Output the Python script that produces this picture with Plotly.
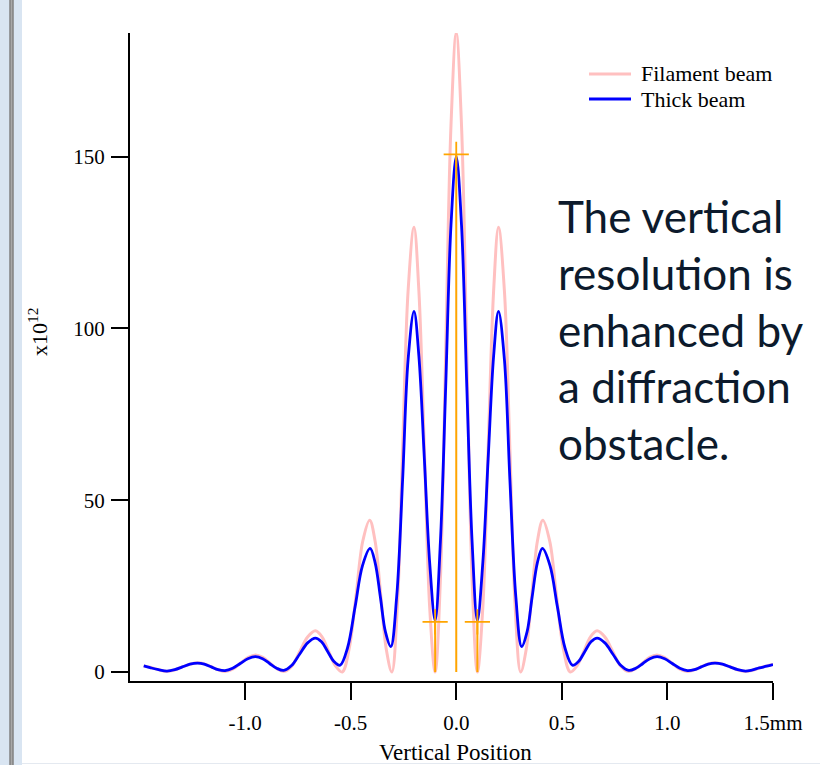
import plotly.graph_objects as go

# ---------------- data ----------------
filament_x = [-1.48, -1.45, -1.41, -1.37, -1.334, -1.298, -1.26, -1.225, -1.19, -1.158, -1.124, -1.09,
              -1.055, -1.02, -0.985, -0.95, -0.916, -0.883, -0.85, -0.815, -0.778, -0.741, -0.704, -0.667,
              -0.635, -0.604, -0.572, -0.54, -0.508, -0.475, -0.443, -0.41, -0.384, -0.357, -0.331, -0.305,
              -0.279, -0.254, -0.228, -0.2, -0.177, -0.151, -0.126, -0.1, -0.075, -0.05, -0.025,
              0.0,
              0.025, 0.05, 0.075, 0.1, 0.126, 0.151, 0.177, 0.2, 0.228, 0.254, 0.279, 0.305,
              0.331, 0.357, 0.384, 0.41, 0.443, 0.475, 0.508, 0.54, 0.572, 0.604, 0.635, 0.667,
              0.704, 0.741, 0.778, 0.815, 0.85, 0.883, 0.916, 0.95, 0.985, 1.02, 1.055, 1.09,
              1.124, 1.158, 1.19, 1.225, 1.26, 1.298, 1.334, 1.37, 1.40, 1.435, 1.47, 1.5]
filament_y = [1.8, 1.4, 0.7, 0.2, 0.6, 1.5, 2.3, 2.7, 2.3, 1.5, 0.6, 0.2,
              1.0, 2.7, 4.3, 5.0, 4.3, 2.7, 1.0, 0.2, 1.8, 6.0, 10.2, 12.0,
              10.2, 6.0, 1.8, 0.0, 6.5, 22.0, 38.0, 44.2, 38.0, 22.0, 6.5, 0.0,
              19.0, 65.0, 111.0, 129.5, 111.0, 65.0, 19.0, 0.0, 27.0, 93.0, 159.0,
              186.0,
              159.0, 93.0, 27.0, 0.0, 19.0, 65.0, 111.0, 129.5, 111.0, 65.0, 19.0, 0.0,
              6.5, 22.0, 38.0, 44.2, 38.0, 22.0, 6.5, 0.0, 1.8, 6.0, 10.2, 12.0,
              10.2, 6.0, 1.8, 0.2, 1.0, 2.7, 4.3, 5.0, 4.3, 2.7, 1.0, 0.2,
              0.6, 1.5, 2.3, 2.7, 2.3, 1.5, 0.6, 0.2, 0.5, 1.2, 1.8, 2.2]

thick_x = [-1.48, -1.45, -1.41, -1.37, -1.333, -1.297, -1.261, -1.225, -1.193, -1.16, -1.128, -1.095,
           -1.059, -1.023, -0.987, -0.951, -0.917, -0.884, -0.85, -0.817, -0.78, -0.742, -0.704, -0.667,
           -0.638, -0.609, -0.579, -0.55, -0.515, -0.479, -0.444, -0.408, -0.384, -0.359, -0.335, -0.31,
           -0.282, -0.254, -0.228, -0.2, -0.177, -0.151, -0.126, -0.1, -0.075, -0.05, -0.025,
           0.0,
           0.025, 0.05, 0.075, 0.1, 0.126, 0.151, 0.177, 0.2, 0.228, 0.254, 0.282, 0.31,
           0.335, 0.359, 0.384, 0.408, 0.444, 0.479, 0.515, 0.55, 0.579, 0.609, 0.638, 0.667,
           0.704, 0.742, 0.78, 0.817, 0.85, 0.884, 0.917, 0.951, 0.987, 1.023, 1.059, 1.095,
           1.128, 1.16, 1.193, 1.225, 1.261, 1.297, 1.333, 1.37, 1.40, 1.435, 1.47, 1.5]
thick_y = [1.8, 1.3, 0.7, 0.3, 0.7, 1.5, 2.3, 2.6, 2.3, 1.5, 0.7, 0.4,
           1.1, 2.5, 3.9, 4.5, 3.9, 2.5, 1.1, 0.5, 1.9, 5.2, 8.5, 9.9,
           8.8, 6.0, 3.1, 2.0, 7.0, 19.0, 31.0, 36.0, 31.8, 21.7, 11.6, 7.4,
           22.0, 56.0, 91.0, 105.0, 92.0, 62.0, 32.0, 15.0, 38.0, 83.0, 130.0,
           150.0,
           130.0, 83.0, 38.0, 15.0, 32.0, 62.0, 92.0, 105.0, 91.0, 56.0, 22.0, 7.4,
           11.6, 21.7, 31.8, 36.0, 31.0, 19.0, 7.0, 2.0, 3.1, 6.0, 8.8, 9.9,
           8.5, 5.2, 1.9, 0.5, 1.1, 2.5, 3.9, 4.5, 3.9, 2.5, 1.1, 0.4,
           0.7, 1.5, 2.3, 2.6, 2.3, 1.5, 0.7, 0.3, 0.6, 1.2, 1.7, 2.2]

marker_x = [-0.1, 0.0, 0.1]
marker_y = [14.6, 150.7, 14.6]

x_tickvals = [-1.0, -0.5, 0.0, 0.5, 1.0, 1.5]
x_ticktext = ["-1.0", "-0.5", "0.0", "0.5", "1.0", "1.5mm"]
y_tickvals = [0, 50, 100, 150]
y_ticktext = ["0", "50", "100", "150"]

series_names = ["Filament beam", "Thick beam"]
series_colors = ["#FFC0C0", "#0000FF"]
series_widths = [3, 2.8]

text_lines = ["The vertical", "resolution is", "enhanced by", "a diffraction", "obstacle."]

# ---------------- layout helpers ----------------
W, H = 820, 765
L, R, T, B = 130, 773, 33, 681


def px(x):
    return (x - L) / (R - L)


def py(y):
    return (B - y) / (B - T)


SERIF = "Liberation Serif, Times New Roman, serif"

fig = go.Figure()
for xs, ys, nm, col, wd in zip([filament_x, thick_x], [filament_y, thick_y],
                               series_names, series_colors, series_widths):
    fig.add_trace(go.Scatter(x=xs, y=ys, mode="lines", name=nm, showlegend=False,
                             line=dict(color=col, width=wd, shape="spline", smoothing=1.0)))

# sticks to zero with + markers
sx, sy = [], []
for xv, yv in zip(marker_x, marker_y):
    sx += [xv, xv, None]
    sy += [0, yv, None]
fig.add_trace(go.Scatter(x=sx, y=sy, mode="lines", showlegend=False,
                         line=dict(color="#FFA500", width=2), hoverinfo="skip"))
fig.add_trace(go.Scatter(x=marker_x, y=marker_y, mode="markers", showlegend=False,
                         marker=dict(symbol="cross-thin", size=18,
                                     line=dict(color="#FFA500", width=1.8))))

annotations = [
    dict(text="x10<sup>12</sup>", textangle=-90, x=px(38), y=py(332), xref="paper", yref="paper",
         xanchor="center", yanchor="middle",
         showarrow=False, font=dict(family=SERIF, size=22, color="black")),
    dict(text="Vertical Position", x=px(455), y=py(752), xref="paper", yref="paper",
         xanchor="center", yanchor="middle",
         showarrow=False, font=dict(family=SERIF, size=23, color="black")),
]
line_centers = [216, 273, 330, 386, 443]
for t, yc in zip(text_lines, line_centers):
    annotations.append(dict(text=t, x=px(556), y=py(yc), xref="paper", yref="paper",
                            xanchor="left", yanchor="middle", showarrow=False,
                            font=dict(family="Lato, Carlito, Calibri, sans-serif", size=44,
                                      color="#0C1A2C")))

shapes = [
    dict(type="rect", xref="paper", yref="paper", x0=px(0), x1=px(22), y0=py(H), y1=py(0),
         fillcolor="#D9E5F2", line=dict(width=0), layer="below"),
    dict(type="rect", xref="paper", yref="paper", x0=px(9.5), x1=px(13.5), y0=py(H), y1=py(0),
         fillcolor="#A8A8A8", line=dict(width=0), layer="below"),
    dict(type="line", xref="paper", yref="paper", x0=px(10), x1=px(10), y0=py(H), y1=py(0),
         line=dict(color="#6E6E6E", width=1)),
    dict(type="line", xref="paper", yref="paper", x0=px(13), x1=px(13), y0=py(H), y1=py(0),
         line=dict(color="#6E6E6E", width=1)),
    dict(type="line", xref="paper", yref="paper", x0=px(22), x1=px(W), y0=py(763.5), y1=py(763.5),
         line=dict(color="#E4E9F0", width=1)),
]

# legend (drawn as key lines + labels)
legend_rows = [74, 99]
for nm, col, wd, yr in zip(series_names, series_colors, series_widths, legend_rows):
    shapes.append(dict(type="line", xref="paper", yref="paper", x0=px(589), x1=px(631),
                       y0=py(yr), y1=py(yr), line=dict(color=col, width=wd)))
    annotations.append(dict(text=nm, x=px(639), y=py(yr), xref="paper", yref="paper",
                            xanchor="left", yanchor="middle", showarrow=False,
                            font=dict(family=SERIF, size=22, color="black")))

fig.update_layout(
    width=W, height=H,
    margin=dict(l=L, r=W - R, t=T, b=H - B),
    paper_bgcolor="white", plot_bgcolor="white",
    showlegend=False,
    annotations=annotations,
    shapes=shapes,
    xaxis=dict(range=[-1.545, 1.5], showgrid=False, zeroline=False, showline=True,
               linecolor="black", linewidth=2, ticks="outside", ticklen=17, tickwidth=2,
               tickcolor="black", tickvals=x_tickvals, ticktext=x_ticktext,
               ticklabelstandoff=5,
               tickfont=dict(family=SERIF, size=21, color="black")),
    yaxis=dict(range=[-2.6, 186], showgrid=False, zeroline=False, showline=True,
               linecolor="black", linewidth=2, ticks="outside", ticklen=17, tickwidth=2,
               tickcolor="black", tickvals=y_tickvals, ticktext=y_ticktext,
               ticklabelstandoff=2,
               tickfont=dict(family=SERIF, size=21, color="black")),
)

fig.write_html("out.html", config={"displayModeBar": False},
               post_script="document.body.style.margin='0';document.body.style.padding='0';"
                           "document.body.style.overflow='hidden';")
